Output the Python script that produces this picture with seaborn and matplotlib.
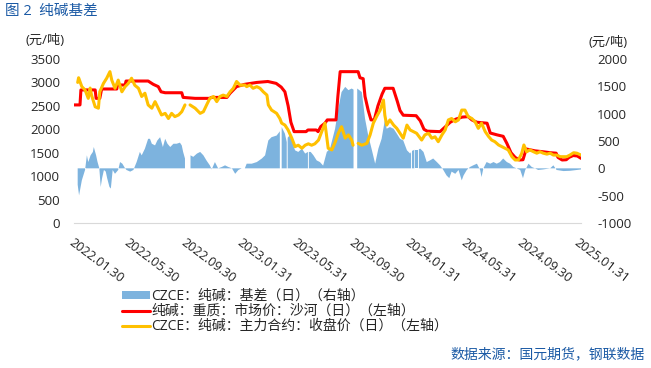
import numpy as np
import pandas as pd
import matplotlib
matplotlib.use("Agg")
import matplotlib.pyplot as plt
from matplotlib.patches import Patch
from matplotlib.lines import Line2D
import seaborn as sns

sns.set_theme(style="white")
plt.rcParams["font.family"] = ["Open Sans", "Noto Sans CJK SC", "DejaVu Sans"]
plt.rcParams["axes.unicode_minus"] = False

NaN = np.nan

# ---------------- data ----------------
spot_dates = ["2022-01-30","2022-02-12","2022-02-14","2022-03-17","2022-03-19","2022-03-27","2022-03-31",
    "2022-05-03","2022-05-04","2022-05-21","2022-05-23","2022-07-10","2022-07-21","2022-08-01","2022-08-07",
    "2022-08-16","2022-09-21","2022-09-24","2022-10-20","2022-11-21","2022-11-24","2022-12-28","2023-01-04",
    "2023-01-18","2023-02-05","2023-03-03","2023-03-27","2023-04-14","2023-04-25","2023-05-03","2023-05-10",
    "2023-05-16","2023-05-23","2023-06-18","2023-06-22","2023-07-10","2023-07-14","2023-07-20","2023-07-29",
    "2023-08-03","2023-08-22","2023-08-26","2023-08-31","2023-10-09","2023-10-13","2023-10-20","2023-10-24",
    "2023-10-31","2023-11-06","2023-11-13","2023-11-21","2023-11-30","2023-12-06","2023-12-24","2024-01-02",
    "2024-01-08","2024-01-15","2024-02-12","2024-02-21","2024-02-29","2024-03-07","2024-04-04","2024-04-15",
    "2024-04-26","2024-05-09","2024-05-22","2024-06-04","2024-06-12","2024-06-23","2024-07-15","2024-07-22",
    "2024-08-06","2024-08-19","2024-08-27","2024-09-05","2024-09-14","2024-09-23","2024-10-01","2024-10-08",
    "2024-10-27","2024-11-14","2024-11-29","2024-12-12","2024-12-16","2024-12-25","2025-01-03","2025-01-09",
    "2025-01-18","2025-01-27","2025-02-04"]
spot_vals = [2520,2520,2840,2840,2660,2660,2860,
    2860,2945,2945,3030,3030,2960,2910,2800,
    2780,2780,2680,2660,2660,2680,2680,2770,
    2910,2960,3000,3020,2980,2900,2800,2500,
    2150,1950,1950,1985,1985,1950,2060,2130,
    2200,2200,2700,3230,3230,3100,3080,2700,
    2400,2200,2200,2500,2750,2875,2875,2600,
    2400,2300,2290,2180,2000,1960,1950,2050,
    2150,2220,2260,2270,2200,2150,2130,1920,
    1880,1850,1700,1500,1400,1345,1350,1580,
    1540,1520,1500,1490,1400,1345,1350,1400,
    1440,1430,1380]

fut_dates = ["2022-02-07","2022-02-09","2022-02-16","2022-02-23","2022-03-02","2022-03-06","2022-03-09",
    "2022-03-17","2022-03-24","2022-03-27","2022-04-04","2022-04-11","2022-04-18","2022-04-22","2022-04-29",
    "2022-05-06","2022-05-14","2022-05-21","2022-05-28","2022-06-04","2022-06-11","2022-06-19","2022-06-26",
    "2022-07-03","2022-07-10","2022-07-18","2022-07-25","2022-08-01","2022-08-08","2022-08-16","2022-08-23",
    "2022-08-30","2022-09-06","2022-09-14","2022-09-21","2022-09-28","2022-10-04","2022-10-09","2022-10-20",
    "2022-10-31","2022-11-07","2022-11-14","2022-11-21","2022-11-29","2022-12-06","2022-12-13","2022-12-20",
    "2022-12-28","2023-01-04","2023-01-11","2023-01-18","2023-01-26","2023-02-05","2023-02-09","2023-02-16",
    "2023-02-23","2023-03-03","2023-03-10","2023-03-17","2023-03-25","2023-03-28","2023-04-04","2023-04-15",
    "2023-04-22","2023-04-26","2023-05-03","2023-05-10","2023-05-18","2023-05-25","2023-06-01","2023-06-09",
    "2023-06-16","2023-06-23","2023-06-30","2023-07-07","2023-07-15","2023-07-22","2023-07-29","2023-08-05",
    "2023-08-13","2023-08-20","2023-08-27","2023-09-03","2023-09-11","2023-09-18","2023-09-25","2023-09-28",
    "2023-10-03","2023-10-09","2023-10-17","2023-10-28","2023-11-04","2023-11-11","2023-11-18","2023-11-26",
    "2023-12-03","2023-12-06","2023-12-10","2023-12-17","2023-12-25","2024-01-01","2024-01-08","2024-01-15",
    "2024-01-23","2024-01-30","2024-02-06","2024-02-13","2024-02-24","2024-03-02","2024-03-10","2024-03-17",
    "2024-03-24","2024-03-31","2024-04-08","2024-04-15","2024-04-22","2024-04-29","2024-05-07","2024-05-14",
    "2024-05-21","2024-05-28","2024-06-04","2024-06-12","2024-06-19","2024-06-26","2024-07-03","2024-07-11",
    "2024-07-18","2024-07-25","2024-08-01","2024-08-09","2024-08-16","2024-08-23","2024-08-30","2024-09-07",
    "2024-09-14","2024-09-21","2024-09-28","2024-10-03","2024-10-09","2024-10-16","2024-10-24","2024-10-31",
    "2024-11-07","2024-11-14","2024-11-22","2024-11-29","2024-12-06","2024-12-13","2024-12-21","2024-12-28",
    "2025-01-04","2025-01-11","2025-01-19","2025-01-26","2025-02-04"]
fut_vals = [3000,3100,2910,2840,2660,2880,2730,
    2480,2450,2800,2980,3090,3230,3050,2875,
    3050,2800,2910,2980,3090,2940,2875,2700,
    2770,2520,2450,2590,2450,2305,2340,2230,
    2340,2270,2305,2375,2520,NaN,2520,2450,
    2340,2375,2520,2660,2700,2590,2700,2730,
    2700,2800,2875,3020,2940,2945,2910,2945,
    2875,2910,2875,2800,2730,2520,2410,2340,
    2230,2130,2090,1985,1810,1630,1660,1595,
    1660,1690,1660,1690,1770,1950,2130,1595,
    1560,1720,1915,2055,1810,1880,1770,1660,
    NaN,1700,1660,1700,1880,2130,2270,2410,
    2625,2300,2090,2200,2090,2020,1915,1810,
    2090,1985,1950,1915,1770,1880,1915,1810,
    1840,1735,1880,1985,2200,2230,2160,2200,
    2410,2410,2270,2230,2160,2020,2130,1950,
    1850,1770,1735,1665,1630,1595,1560,1415,
    1345,1345,1480,1665,1520,1560,1520,1490,
    1520,1490,1470,1490,1450,1450,1415,1415,
    1415,1450,1500,1490,1450]

basis_dates = ["2022-02-07","2022-02-10","2022-02-16","2022-02-23","2022-02-27","2022-03-02","2022-03-07",
    "2022-03-12","2022-03-14","2022-03-19","2022-03-22","2022-03-26","2022-03-29","2022-04-01","2022-04-05",
    "2022-04-09","2022-04-12","2022-04-17","2022-04-20","2022-04-24","2022-04-29","2022-05-06","2022-05-10",
    "2022-05-15","2022-05-21","2022-05-24","2022-06-01","2022-06-08","2022-06-15","2022-06-22","2022-06-26",
    "2022-07-03","2022-07-10","2022-07-14","2022-07-18","2022-07-25","2022-07-30","2022-08-05","2022-08-11",
    "2022-08-16","2022-08-21","2022-08-27","2022-09-03","2022-09-10","2022-09-17","2022-09-21","2022-09-24",
    "2022-09-28","2022-10-04","2022-10-10","2022-10-16","2022-10-24","2022-10-31","2022-11-07","2022-11-14",
    "2022-11-21","2022-11-25","2022-12-02","2022-12-09","2022-12-17","2022-12-24","2022-12-31","2023-01-08",
    "2023-01-15","2023-01-22","2023-01-29","2023-02-05","2023-02-09","2023-02-20","2023-03-03","2023-03-14",
    "2023-03-21","2023-03-28","2023-04-04","2023-04-15","2023-04-21","2023-04-22","2023-04-23","2023-04-26",
    "2023-05-03","2023-05-07","2023-05-08","2023-05-09","2023-05-13","2023-05-18","2023-05-25","2023-06-01",
    "2023-06-09","2023-06-16","2023-06-22","2023-06-23","2023-06-24","2023-06-28","2023-07-04","2023-07-11",
    "2023-07-18","2023-07-25","2023-08-02","2023-08-09","2023-08-20","2023-08-27","2023-09-03","2023-09-11",
    "2023-09-18","2023-09-25","2023-09-29","2023-10-03","2023-10-07","2023-10-17","2023-10-24","2023-10-31",
    "2023-11-08","2023-11-15","2023-11-22","2023-11-29","2023-12-06","2023-12-10","2023-12-17","2023-12-25",
    "2024-01-01","2024-01-08","2024-01-15","2024-01-23","2024-01-30","2024-02-01","2024-02-02","2024-02-03",
    "2024-02-06","2024-02-08","2024-02-09","2024-02-10","2024-02-16","2024-02-17","2024-02-18","2024-02-21",
    "2024-02-28","2024-03-06","2024-03-13","2024-03-20","2024-03-28","2024-04-04","2024-04-11","2024-04-18",
    "2024-04-24","2024-04-29","2024-05-07","2024-05-14","2024-05-21","2024-05-25","2024-06-01","2024-06-08",
    "2024-06-15","2024-06-23","2024-06-30","2024-07-03","2024-07-07","2024-07-14","2024-07-22","2024-07-29",
    "2024-08-05","2024-08-12","2024-08-19","2024-08-27","2024-09-03","2024-09-10","2024-09-17","2024-09-25",
    "2024-10-01","2024-10-06","2024-10-13","2024-10-20","2024-10-27","2024-11-03","2024-11-14","2024-11-29",
    "2024-12-06","2024-12-13","2024-12-28","2025-01-11","2025-01-26","2025-02-04"]
basis_vals = [-300,-494,-220,-30,238,115,238,
    300,390,238,120,0,-340,-180,-30,
    -60,-180,-340,-370,-30,-100,-30,115,
    85,0,-30,-60,-30,115,300,238,
    360,540,540,450,420,510,570,390,
    540,450,390,450,450,470,420,300,
    180,NaN,238,210,270,300,238,140,
    55,-20,115,0,25,55,25,0,
    -100,-30,0,0,85,85,115,180,
    238,510,570,600,665,680,NaN,755,
    635,480,NaN,560,600,510,330,300,
    360,270,300,NaN,300,300,238,145,
    115,50,300,360,725,1090,1395,1490,
    1430,1460,1440,NaN,1460,1395,910,600,
    330,85,360,540,880,725,755,725,
    635,540,510,330,270,300,NaN,320,
    330,340,NaN,340,340,NaN,350,360,
    300,115,145,180,115,55,-30,-130,
    -180,-60,-100,-30,-220,-130,-30,25,
    55,85,-30,-160,0,115,85,115,
    85,115,180,115,85,25,0,-30,
    -180,-30,85,25,0,-30,-20,0,
    55,-30,-50,-45,-30,-20]

tick_dates = ["2022-01-30","2022-05-30","2022-09-30","2023-01-31","2023-05-31",
              "2023-09-30","2024-01-31","2024-05-31","2024-09-30","2025-01-31"]

legend_labels = ["CZCE：纯碱：基差（日）（右轴）",
                 "纯碱：重质：市场价：沙河（日）（左轴）",
                 "CZCE：纯碱：主力合约：收盘价（日）（左轴）"]

# ---------------- styling ----------------
C_BLUE = "#7DB3DE"
C_RED = "#FF0000"
C_YEL = "#FFC000"
C_TXT = "#262626"
C_TITLE = "#1B5AA5"
W, H = 651, 368


def frame(dates, vals):
    df = pd.DataFrame({"date": pd.to_datetime(dates), "value": np.array(vals, dtype=float)})
    df["seg"] = df["value"].isna().cumsum()
    return df.dropna()


spot_df = frame(spot_dates, spot_vals)
fut_df = frame(fut_dates, fut_vals)
basis_x = pd.to_datetime(basis_dates).values
basis_y = np.array(basis_vals, dtype=float)

fig = plt.figure(figsize=(W / 100, H / 100), dpi=100)
fig.patch.set_facecolor("white")
ax = fig.add_axes([74 / W, 1 - 223 / H, (581 - 74) / W, (223 - 59) / H])
ax2 = ax.twinx()

ax2.fill_between(basis_x, 0, basis_y, color=C_BLUE, linewidth=0)

sns.lineplot(data=spot_df, x="date", y="value", units="seg", estimator=None,
             color=C_RED, linewidth=2.2, ax=ax, legend=False)
sns.lineplot(data=fut_df, x="date", y="value", units="seg", estimator=None,
             color=C_YEL, linewidth=2.2, ax=ax, legend=False)

ax.set_zorder(ax2.get_zorder() + 1)
ax.patch.set_visible(False)

ax.set_xlim(pd.Timestamp("2022-01-30"), pd.Timestamp("2025-02-04"))
ax.set_ylim(0, 3500)
ax.set_yticks(range(0, 3501, 500))
ax2.set_ylim(-1000, 2000)
ax2.set_yticks(range(-1000, 2001, 500))
ax.set_xlabel("")
ax.set_ylabel("")
ax2.set_ylabel("")

tk = pd.to_datetime(tick_dates)
ax.set_xticks(tk)
ax.set_xticklabels([d.strftime("%Y.%m.%d") for d in tk], rotation=-37,
                   ha="left", va="top", rotation_mode="anchor", fontsize=9.2, color=C_TXT)

for s in ax.spines.values():
    s.set_visible(False)
for s in ax2.spines.values():
    s.set_visible(False)
ax.spines["bottom"].set_visible(True)
ax.spines["bottom"].set_color("#D9D9D9")
ax.spines["bottom"].set_linewidth(0.8)

ax.tick_params(axis="x", length=3.5, width=0.8, color="#D9D9D9", direction="out", pad=6)
ax.tick_params(axis="y", length=0, pad=10, labelsize=9.5, labelcolor=C_TXT)
ax2.tick_params(axis="y", length=0, pad=11.5, labelsize=9.5, labelcolor=C_TXT)
ax.grid(False)
ax2.grid(False)

fig.text(5 / W, 1 - 11 / H, "图 2  纯碱基差", color=C_TITLE, fontsize=10.5,
         ha="left", va="center")
fig.text(45 / W, 1 - 41 / H, "(元/吨)", color=C_TXT, fontsize=9.5, ha="center", va="center")
fig.text(608 / W, 1 - 43 / H, "(元/吨)", color=C_TXT, fontsize=9.5, ha="center", va="center")
fig.text(645 / W, 1 - 355 / H, "数据来源：国元期货，钢联数据", color=C_TITLE, fontsize=10,
         ha="right", va="center")

handles = [Patch(facecolor=C_BLUE, edgecolor="none"),
           Line2D([], [], color=C_RED, linewidth=2.2),
           Line2D([], [], color=C_YEL, linewidth=2.2)]
fig.legend(handles, legend_labels, loc="upper left", bbox_to_anchor=(122 / W, 1 - 289 / H),
           frameon=False, fontsize=10, handlelength=2.0, handleheight=0.5,
           handletextpad=0.1, labelspacing=0.0, borderpad=0, borderaxespad=0,
           labelcolor=C_TXT)

fig.savefig("out.png", dpi=100)
